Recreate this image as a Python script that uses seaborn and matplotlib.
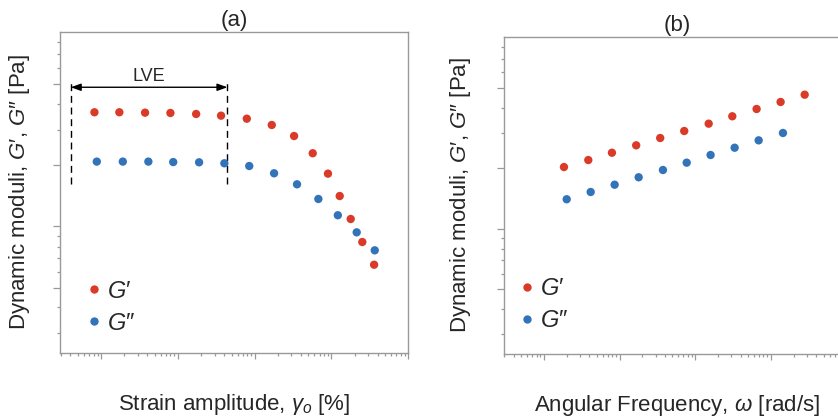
import numpy as np
import pandas as pd
import matplotlib
matplotlib.use("Agg")
import matplotlib.pyplot as plt
import seaborn as sns
from matplotlib.ticker import FixedLocator, LogLocator, NullFormatter

# (a) amplitude sweep, strain in %, moduli in Pa
strain_gp = [0.0082, 0.0173, 0.0374, 0.080, 0.173, 0.365, 0.79, 1.67, 3.26, 5.7, 9.0, 12.8, 17.8, 25.2, 35.9]
gp_strain = [727, 727, 716, 708, 682, 640, 571, 451, 298, 156, 72.5, 31.3, 13.2, 5.56, 2.37]
strain_gpp = [0.0088, 0.0192, 0.0413, 0.087, 0.189, 0.403, 0.85, 1.79, 3.56, 6.75, 12.1, 21.3, 36.6]
gpp_strain = [114, 114, 114, 112, 111, 107, 96.6, 73.5, 48.6, 28.0, 15.2, 8.0, 4.07]

# (b) frequency sweep, omega in rad/s
freq_gp = [0.184, 0.386, 0.793, 1.66, 3.45, 7.17, 15.1, 31.0, 65.0, 135, 281]
gp_freq = [105, 137, 181, 240, 317, 414, 547, 725, 957, 1250, 1650]
freq_gpp = [0.20, 0.415, 0.861, 1.79, 3.75, 7.73, 16.0, 33.3, 69.2, 145]
gpp_freq = [30.8, 40.6, 53.6, 71.1, 93.8, 124, 166, 219, 290, 384]

lbl_gp = "$G\u2032$"
lbl_gpp = "$G\u2033$"
colors = {lbl_gp: "#DA3B28", lbl_gpp: "#3273B9"}

sns.set_theme(style="white")
plt.rcParams["font.family"] = ["Liberation Sans", "DejaVu Sans"]
plt.rcParams["mathtext.fontset"] = "custom"
plt.rcParams["mathtext.rm"] = "Liberation Sans"
plt.rcParams["mathtext.it"] = "Liberation Sans:italic"
plt.rcParams["axes.edgecolor"] = "#999999"
plt.rcParams["axes.linewidth"] = 1.0


def sweep_frame(x1, y1, x2, y2):
    return pd.concat([
        pd.DataFrame({"x": x1, "y": y1, "modulus": lbl_gp}),
        pd.DataFrame({"x": x2, "y": y2, "modulus": lbl_gpp}),
    ], ignore_index=True)


def style_axes(ax, xlim):
    ax.set_xscale("log")
    ax.set_yscale("log")
    ax.set_xlim(*xlim)
    ax.set_ylim(10 ** -1.07, 10 ** 4.176)
    ax.xaxis.set_major_locator(LogLocator(base=10))
    ax.xaxis.set_minor_locator(LogLocator(base=10, subs=np.arange(2, 10)))
    ax.yaxis.set_major_locator(FixedLocator(10 ** np.array([0, 1, 2, 3.32])))
    ax.yaxis.set_minor_locator(FixedLocator(10 ** np.array(
        [-0.74, -0.32, 0.26, 0.48, 0.67, 0.84, 2.58, 3.0, 3.59, 3.81, 4.0])))
    ax.xaxis.set_major_formatter(NullFormatter())
    ax.xaxis.set_minor_formatter(NullFormatter())
    ax.yaxis.set_major_formatter(NullFormatter())
    ax.yaxis.set_minor_formatter(NullFormatter())
    ax.tick_params(which="both", direction="out", color="#999999", width=0.9,
                   bottom=True, left=True, top=False, right=False)
    ax.tick_params(axis="x", which="major", length=4.5)
    ax.tick_params(axis="x", which="minor", length=2.3)
    ax.tick_params(axis="y", which="major", length=5)
    ax.tick_params(axis="y", which="minor", length=2.3)
    ax.grid(False)


fig = plt.figure(figsize=(8.38, 4.18), dpi=100)
ax1 = fig.add_axes([0.0716, 0.1548, 0.4156, 0.7694])
ax2 = fig.add_axes([0.6014, 0.1531, 0.4129, 0.7591])

df_a = sweep_frame(strain_gp, gp_strain, strain_gpp, gpp_strain)
df_b = sweep_frame(freq_gp, gp_freq, freq_gpp, gpp_freq)

sns.scatterplot(data=df_a, x="x", y="y", hue="modulus", palette=colors,
                s=36, linewidth=0, ax=ax1, zorder=3)
sns.scatterplot(data=df_b, x="x", y="y", hue="modulus", palette=colors,
                s=36, linewidth=0, ax=ax2, zorder=3)

style_axes(ax1, (0.00292, 100))
style_axes(ax2, (0.0296, 1117))
ax2.spines["right"].set_visible(False)

ax1.set_title("(a)", fontsize=16, pad=4)
ax2.set_title("(b)", fontsize=16, pad=4)
ax1.set_xlabel(r"Strain amplitude, $\gamma_o$ [%]", fontsize=16, labelpad=20)
ax2.set_xlabel(r"Angular Frequency, $\omega$ [rad/s]", fontsize=16, labelpad=20)
ylab = "Dynamic moduli, $G\u2032$, $G\u2033$ [Pa]"
ax1.set_ylabel(ylab, fontsize=16, labelpad=12)
ax2.set_ylabel(ylab, fontsize=16, labelpad=14)

# linear viscoelastic region marker
lve_x = (0.00403, 0.442)
lve_y = (48.6, 2210)
ax1.vlines(lve_x, lve_y[0], lve_y[1], colors="black", linewidth=1,
           linestyles=(0, (5, 3.4)))
ax1.annotate("", xy=(lve_x[1], 1860), xytext=(lve_x[0], 1860),
             arrowprops=dict(arrowstyle="<|-|>,head_length=0.5,head_width=0.18",
                             color="black", lw=1, shrinkA=0, shrinkB=0))
ax1.text(np.sqrt(lve_x[0] * lve_x[1]), 2800, "LVE", fontsize=13,
         ha="center", va="center")

for ax, anchor in ((ax1, (0.0807, 0.142)), (ax2, (0.049, 0.153))):
    ax.legend(loc="center left", bbox_to_anchor=anchor, frameon=False,
              fontsize=17, borderpad=0, borderaxespad=0, handlelength=0.5,
              handletextpad=0.3, labelspacing=0.42, markerscale=1.0)

fig.savefig("out.png", dpi=100)
